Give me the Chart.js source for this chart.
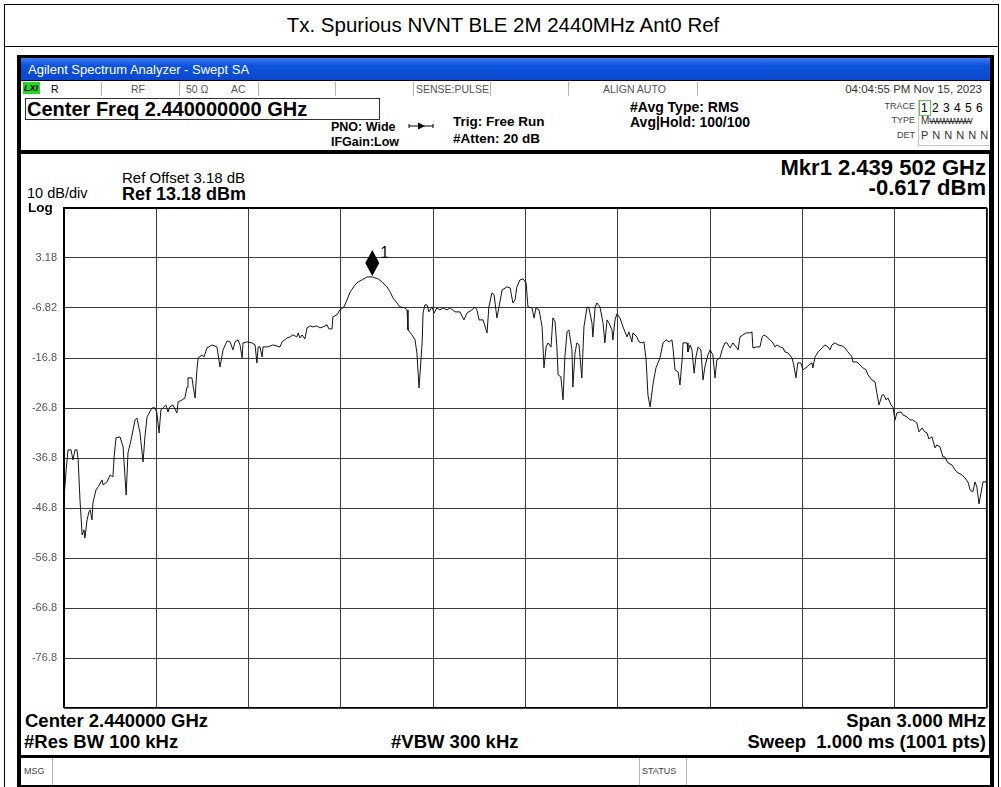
<!DOCTYPE html>
<html>
<head>
<meta charset="utf-8">
<script src="https://cdn.jsdelivr.net/npm/chart.js"></script>
<style>
  body { margin: 0; width: 1001px; height: 787px; position: relative; background: #fff; overflow: hidden;
         font-family: "Liberation Sans", Arial, sans-serif; color: #000; }
  .abs { position: absolute; line-height: 1; white-space: nowrap; }
  .b { font-weight: bold; }
  .st { font-size: 10.5px; color: #555; top: 83.5px; }
  .vl { position: absolute; width: 1px; background: #b4b4b4; }
  .sm { font-size: 9px; color: #444; }
</style>
</head>
<body>
<!-- page table -->
<div class="abs" style="left:4px;top:4px;width:993px;height:783px;border:1px solid #000;border-bottom:none;"></div>
<div class="abs" style="left:4px;top:46px;width:994px;height:1px;background:#000;"></div>
<div class="abs" style="left:0;top:15px;width:1006px;text-align:center;font-size:20.5px;">Tx. Spurious NVNT BLE 2M 2440MHz Ant0 Ref</div>

<!-- analyzer window -->
<div class="abs" style="left:17px;top:55px;width:977px;height:732px;background:#000;"></div>
<div class="abs" style="left:21px;top:58px;width:969px;height:22px;background:linear-gradient(#3d7df2,#0c52dc 35%,#0a48cf);"></div>
<div class="abs" style="left:28px;top:63px;font-size:13px;color:#fff;">Agilent Spectrum Analyzer - Swept SA</div>

<div class="abs" style="left:21px;top:81px;width:969px;height:15px;background:#fff;"></div>
<div class="abs" style="left:23px;top:82px;width:17px;height:12px;background:#22d822;"></div>
<div class="abs b" style="left:24px;top:84px;font-size:9px;font-style:italic;">LXI</div>
<div class="abs" style="left:51px;top:83.5px;font-size:10.5px;">R</div>
<div class="abs st" style="left:131px;">RF</div>
<div class="abs st" style="left:186px;">50 Ω</div>
<div class="abs st" style="left:231px;">AC</div>
<div class="abs st" style="left:416px;">SENSE:PULSE</div>
<div class="abs st" style="left:603px;">ALIGN AUTO</div>
<div class="abs" style="right:19px;top:83.5px;font-size:11.5px;color:#333;">04:04:55 PM Nov 15, 2023</div>
<div class="vl" style="left:101px;top:82px;height:14px;"></div>
<div class="vl" style="left:179px;top:82px;height:14px;"></div>
<div class="vl" style="left:258px;top:82px;height:14px;"></div>
<div class="vl" style="left:335px;top:82px;height:14px;"></div>
<div class="vl" style="left:413px;top:82px;height:14px;"></div>
<div class="vl" style="left:490px;top:82px;height:14px;"></div>
<div class="vl" style="left:568px;top:82px;height:14px;"></div>
<div class="vl" style="left:697px;top:82px;height:14px;"></div>

<div class="abs" style="left:21px;top:96px;width:969px;height:54px;background:#fff;"></div>
<div class="abs" style="left:25px;top:98px;width:353px;height:20px;border:1px solid #333;"></div>
<div class="abs b" style="left:27px;top:99px;font-size:20px;">Center Freq 2.440000000 GHz</div>
<div class="abs b" style="left:331px;top:121px;font-size:12.5px;">PNO: Wide</div>
<div class="abs b" style="left:331px;top:136px;font-size:12.5px;">IFGain:Low</div>
<svg class="abs" style="left:408px;top:121px;" width="26" height="10">
  <line x1="1" y1="5" x2="25" y2="5" stroke="#000" stroke-width="1"/>
  <polygon points="10,1.5 17,5 10,8.5" fill="#000"/>
  <line x1="1" y1="3" x2="1" y2="7" stroke="#000"/>
  <line x1="25" y1="3" x2="25" y2="7" stroke="#000"/>
</svg>
<div class="abs b" style="left:453px;top:115px;font-size:13.5px;">Trig: Free Run</div>
<div class="abs b" style="left:453px;top:132px;font-size:13.5px;">#Atten: 20 dB</div>
<div class="abs b" style="left:630px;top:100px;font-size:14px;">#Avg Type: RMS</div>
<div class="abs b" style="left:630px;top:115px;font-size:14px;">Avg|Hold: 100/100</div>

<div class="abs sm" style="right:86px;top:102px;">TRACE</div>
<div class="abs sm" style="right:86px;top:116px;">TYPE</div>
<div class="abs sm" style="right:86px;top:131px;">DET</div>
<div class="abs" style="left:918px;top:100px;width:1px;height:45px;background:#c8c8c8;"></div>
<div class="abs" style="left:918px;top:145px;width:71px;height:1px;background:#c8c8c8;"></div>
<div class="abs" style="left:919px;top:100px;width:10px;height:14px;border:1px solid #5ac85a;"></div>
<div class="abs" style="left:921px;top:102px;font-size:12px;word-spacing:1px;">1 2 3 4 5 6</div>
<div class="abs" style="left:921px;top:116px;font-size:10px;color:#333;">M<span style="letter-spacing:-1.5px;text-decoration:line-through;font-size:9px;">WWWWWW</span></div>
<div class="abs" style="left:921px;top:130px;font-size:11px;color:#333;word-spacing:1px;">P N N N N N</div>

<div class="abs" style="left:21px;top:154px;width:968px;height:601px;background:#fff;"></div>
<div class="abs" style="left:122px;top:170px;font-size:15px;">Ref Offset 3.18 dB</div>
<div class="abs b" style="left:122px;top:185px;font-size:18px;">Ref 13.18 dBm</div>
<div class="abs" style="left:27px;top:186px;font-size:14.5px;">10 dB/div</div>
<div class="abs b" style="left:28px;top:200.5px;font-size:13.5px;z-index:2;">Log</div>
<div class="abs b" style="right:15px;top:157px;font-size:22px;">Mkr1 2.439 502 GHz</div>
<div class="abs b" style="right:15px;top:177px;font-size:22px;">-0.617 dBm</div>

<canvas id="spec" class="abs" style="left:22px;top:200px;z-index:1;" width="966" height="515"></canvas>

<div class="abs b" style="left:25px;top:712px;font-size:18.5px;">Center 2.440000 GHz</div>
<div class="abs b" style="right:15px;top:712px;font-size:18.5px;">Span 3.000 MHz</div>
<div class="abs b" style="left:24px;top:733px;font-size:18.5px;">#Res BW 100 kHz</div>
<div class="abs b" style="left:391px;top:733px;font-size:18.5px;">#VBW 300 kHz</div>
<div class="abs b" style="right:15px;top:733px;font-size:18.5px;">Sweep&nbsp; 1.000 ms (1001 pts)</div>

<div class="abs" style="left:21px;top:758px;width:969px;height:27px;background:#fff;"></div>
<div class="abs sm" style="left:24px;top:767px;">MSG</div>
<div class="abs sm" style="left:642px;top:767px;">STATUS</div>
<div class="vl" style="left:52px;top:758px;height:27px;"></div>
<div class="vl" style="left:639px;top:758px;height:27px;"></div>
<div class="vl" style="left:686px;top:758px;height:27px;"></div>

<script>
// trace 1 (MHz / dBm)
const freqMHz = [
  2438.500, 2438.507, 2438.513, 2438.523, 2438.529, 2438.536, 2438.542, 2438.546, 2438.552, 2438.559,
  2438.565, 2438.568, 2438.575, 2438.581, 2438.585, 2438.591, 2438.594, 2438.604, 2438.611, 2438.624,
  2438.627, 2438.640, 2438.650, 2438.659, 2438.663, 2438.669, 2438.682, 2438.692, 2438.702, 2438.708,
  2438.718, 2438.731, 2438.737, 2438.747, 2438.757, 2438.763, 2438.770, 2438.786, 2438.796, 2438.802,
  2438.809, 2438.815, 2438.822, 2438.831, 2438.838, 2438.844, 2438.854, 2438.867, 2438.871, 2438.884,
  2438.893, 2438.900, 2438.903, 2438.916, 2438.919, 2438.926, 2438.932, 2438.936, 2438.949, 2438.955,
  2438.965, 2438.981, 2438.997, 2439.007, 2439.017, 2439.030, 2439.040, 2439.049, 2439.056, 2439.066,
  2439.072, 2439.079, 2439.082, 2439.095, 2439.111, 2439.121, 2439.127, 2439.131, 2439.137, 2439.144,
  2439.147, 2439.163, 2439.179, 2439.202, 2439.209, 2439.225, 2439.235, 2439.244, 2439.257, 2439.261,
  2439.267, 2439.274, 2439.283, 2439.290, 2439.300, 2439.309, 2439.322, 2439.332, 2439.342, 2439.355,
  2439.361, 2439.371, 2439.374, 2439.387, 2439.397, 2439.410, 2439.420, 2439.430, 2439.446, 2439.456,
  2439.469, 2439.485, 2439.502, 2439.511, 2439.521, 2439.534, 2439.550, 2439.560, 2439.569, 2439.582,
  2439.592, 2439.608, 2439.615, 2439.618, 2439.631, 2439.641, 2439.647, 2439.654, 2439.664, 2439.667,
  2439.673, 2439.680, 2439.686, 2439.696, 2439.703, 2439.712, 2439.722, 2439.732, 2439.745, 2439.755,
  2439.771, 2439.787, 2439.800, 2439.810, 2439.826, 2439.836, 2439.842, 2439.849, 2439.862, 2439.875,
  2439.881, 2439.891, 2439.898, 2439.907, 2439.914, 2439.924, 2439.940, 2439.950, 2439.959, 2439.966,
  2439.972, 2439.982, 2439.992, 2440.002, 2440.008, 2440.021, 2440.028, 2440.034, 2440.044, 2440.054,
  2440.060, 2440.067, 2440.073, 2440.083, 2440.089, 2440.096, 2440.102, 2440.106, 2440.115, 2440.122,
  2440.128, 2440.135, 2440.141, 2440.151, 2440.154, 2440.161, 2440.167, 2440.174, 2440.183, 2440.190,
  2440.200, 2440.206, 2440.216, 2440.219, 2440.226, 2440.232, 2440.242, 2440.252, 2440.258, 2440.265,
  2440.271, 2440.281, 2440.284, 2440.291, 2440.297, 2440.307, 2440.317, 2440.330, 2440.336, 2440.346,
  2440.349, 2440.362, 2440.369, 2440.379, 2440.385, 2440.392, 2440.398, 2440.405, 2440.415, 2440.424,
  2440.437, 2440.447, 2440.457, 2440.467, 2440.476, 2440.480, 2440.486, 2440.496, 2440.502, 2440.509,
  2440.512, 2440.525, 2440.528, 2440.535, 2440.541, 2440.548, 2440.554, 2440.561, 2440.570, 2440.577,
  2440.583, 2440.593, 2440.600, 2440.609, 2440.616, 2440.622, 2440.632, 2440.639, 2440.648, 2440.655,
  2440.665, 2440.674, 2440.687, 2440.691, 2440.697, 2440.707, 2440.717, 2440.730, 2440.736, 2440.739,
  2440.752, 2440.762, 2440.769, 2440.775, 2440.785, 2440.795, 2440.804, 2440.811, 2440.817, 2440.827,
  2440.837, 2440.843, 2440.853, 2440.866, 2440.872, 2440.879, 2440.885, 2440.895, 2440.902, 2440.915,
  2440.921, 2440.931, 2440.934, 2440.941, 2440.951, 2440.964, 2440.973, 2440.983, 2440.990, 2440.996,
  2441.006, 2441.016, 2441.029, 2441.038, 2441.048, 2441.061, 2441.064, 2441.077, 2441.087, 2441.097,
  2441.107, 2441.113, 2441.126, 2441.136, 2441.142, 2441.149, 2441.159, 2441.165, 2441.172, 2441.178,
  2441.188, 2441.194, 2441.201, 2441.207, 2441.220, 2441.227, 2441.240, 2441.250, 2441.259, 2441.272,
  2441.279, 2441.289, 2441.298, 2441.305, 2441.311, 2441.321, 2441.331, 2441.337, 2441.347, 2441.357,
  2441.363, 2441.373, 2441.386, 2441.396, 2441.406, 2441.419, 2441.428, 2441.438, 2441.445, 2441.454,
  2441.461, 2441.467, 2441.474, 2441.484, 2441.487, 2441.497, 2441.500
];
const levelDbm = [
  -44.8, -39.2, -35.2, -35.2, -37.2, -35.2, -35.2, -37.2, -45.2, -52.2,
  -51.2, -52.8, -49.2, -47.6, -47.2, -49.2, -45.8, -43.2, -42.6, -41.2,
  -42.2, -41.6, -40.2, -40.6, -36.6, -32.8, -32.6, -34.6, -44.2, -35.8,
  -33.2, -29.2, -28.8, -31.8, -37.6, -32.6, -28.6, -26.8, -26.8, -27.8,
  -31.8, -27.2, -26.8, -26.2, -27.6, -26.6, -26.2, -27.8, -25.6, -25.2,
  -24.8, -22.6, -20.8, -20.8, -22.2, -24.8, -19.2, -16.8, -16.2, -16.6,
  -14.8, -14.2, -14.6, -18.6, -15.2, -13.4, -13.6, -15.2, -13.6, -13.2,
  -14.2, -16.8, -13.8, -13.6, -13.8, -14.2, -17.8, -14.6, -14.6, -16.6,
  -14.6, -14.6, -14.2, -14.6, -13.6, -12.8, -12.6, -12.2, -12.6, -11.8,
  -12.8, -12.2, -13.0, -10.8, -10.4, -10.6, -10.4, -10.8, -10.6, -10.2,
  -11.0, -11.0, -8.6, -8.2, -7.2, -6.6, -5.2, -3.6, -2.2, -1.6,
  -1.2, -0.6, -0.6, -0.8, -1.0, -1.6, -2.6, -3.6, -4.8, -5.8,
  -6.6, -6.8, -7.2, -11.2, -12.2, -13.2, -15.8, -22.8, -13.8, -7.8,
  -6.2, -6.2, -7.6, -6.6, -7.8, -6.8, -7.2, -6.8, -7.2, -6.8,
  -7.6, -7.6, -9.2, -7.8, -7.2, -6.6, -7.2, -9.2, -9.2, -11.8,
  -6.6, -3.8, -4.2, -8.8, -6.6, -3.2, -2.6, -2.8, -5.8, -5.2,
  -2.6, -1.2, -1.0, -1.8, -6.6, -6.8, -8.8, -6.8, -7.2, -10.6,
  -18.8, -14.6, -13.8, -14.6, -8.8, -9.6, -14.6, -20.2, -20.6, -25.2,
  -16.6, -11.6, -11.2, -15.2, -22.6, -15.8, -13.8, -14.2, -20.8, -10.6,
  -6.6, -6.8, -9.8, -12.6, -6.8, -5.8, -6.6, -9.8, -13.8, -9.2,
  -9.8, -11.2, -13.2, -9.2, -8.0, -8.8, -10.6, -12.6, -11.6, -13.6,
  -11.8, -12.6, -13.6, -13.8, -13.6, -17.2, -24.2, -26.6, -21.8, -18.8,
  -16.8, -13.8, -13.2, -13.6, -13.2, -15.2, -19.2, -19.6, -22.2, -17.2,
  -13.8, -13.8, -15.6, -14.2, -15.2, -19.8, -16.6, -14.6, -15.2, -21.2,
  -18.6, -16.2, -15.2, -16.2, -20.8, -17.2, -16.8, -15.2, -13.8, -13.8,
  -14.8, -13.8, -14.8, -15.2, -12.6, -12.2, -11.8, -11.8, -11.6, -14.8,
  -14.6, -14.6, -12.6, -12.2, -12.6, -13.2, -13.8, -14.6, -14.2, -14.6,
  -14.8, -15.6, -15.8, -16.8, -18.2, -20.8, -17.8, -17.8, -19.2, -18.6,
  -18.2, -17.8, -18.8, -16.6, -15.6, -14.8, -14.2, -14.6, -15.2, -14.2,
  -13.8, -14.2, -14.4, -14.8, -15.6, -16.6, -17.6, -17.6, -18.2, -18.8,
  -19.2, -20.2, -21.2, -21.6, -23.8, -26.2, -24.2, -24.2, -25.2, -24.8,
  -26.2, -26.6, -29.2, -27.8, -27.6, -28.2, -28.6, -29.2, -29.2, -29.8,
  -31.6, -30.8, -31.6, -31.8, -33.0, -32.6, -34.8, -34.2, -34.6, -36.6,
  -36.6, -37.8, -38.2, -39.2, -39.8, -40.2, -40.8, -41.6, -43.2, -43.6,
  -41.6, -42.6, -46.0, -42.6, -41.6, -41.6, -41.6
];

// graticule: 10 dB/div from ref 13.18 dBm, 300 kHz/div over 3 MHz span
const yTickValues = [13.18, 3.18, -6.82, -16.82, -26.82, -36.82, -46.82, -56.82, -66.82, -76.82, -86.82];
const yTickLabels = ['', '3.18', '-6.82', '-16.8', '-26.8', '-36.8', '-46.8', '-56.8', '-66.8', '-76.8', ''];
const xGridMHz = [2438.5, 2438.8, 2439.1, 2439.4, 2439.7, 2440.0, 2440.3, 2440.6, 2440.9, 2441.2, 2441.5];

const markerFreq = 2439.502;
const markerLevel = -0.617;

const framePlugin = {
  id: 'frame',
  afterDatasetsDraw(chart) {
    const { ctx, chartArea: a, scales } = chart;
    ctx.save();
    ctx.strokeStyle = '#000';
    ctx.lineWidth = 2;
    ctx.beginPath();
    ctx.moveTo(a.left, a.bottom); ctx.lineTo(a.left, a.top); ctx.lineTo(a.right, a.top);
    ctx.stroke();
    ctx.lineWidth = 1;
    ctx.beginPath();
    ctx.moveTo(a.right - 0.5, a.top); ctx.lineTo(a.right - 0.5, a.bottom - 0.5); ctx.lineTo(a.left, a.bottom - 0.5);
    ctx.stroke();
    // marker 1
    const mx = scales.x.getPixelForValue(markerFreq);
    const my = scales.y.getPixelForValue(markerLevel);
    ctx.fillStyle = '#000';
    ctx.beginPath();
    ctx.moveTo(mx, my - 1);
    ctx.lineTo(mx + 7, my - 14);
    ctx.lineTo(mx, my - 27);
    ctx.lineTo(mx - 7, my - 14);
    ctx.closePath();
    ctx.fill();
    ctx.font = '16px "Liberation Sans", Arial, sans-serif';
    ctx.textBaseline = 'alphabetic';
    ctx.fillText('1', mx + 8, my - 19);
    ctx.restore();
  }
};

new Chart(document.getElementById('spec').getContext('2d'), {
  type: 'scatter',
  data: {
    datasets: [{
      data: freqMHz.map((f, i) => ({ x: f, y: levelDbm[i] })),
      showLine: true,
      borderColor: '#141414',
      borderWidth: 1,
      pointRadius: 0,
      tension: 0
    }]
  },
  options: {
    responsive: false,
    animation: false,
    layout: { padding: { left: 0, right: 1, top: 8, bottom: 7 } },
    plugins: { legend: { display: false }, tooltip: { enabled: false } },
    scales: {
      x: {
        type: 'linear', min: 2438.5, max: 2441.5,
        afterBuildTicks: s => { s.ticks = xGridMHz.map(v => ({ value: v })); },
        afterFit: s => { s.height = 0; s.paddingLeft = 0; s.paddingRight = 0; },
        ticks: { display: false },
        grid: { color: '#3c3c3c', lineWidth: 1, drawTicks: false },
        border: { display: false }
      },
      y: {
        min: -86.82, max: 13.18,
        afterBuildTicks: s => { s.ticks = yTickValues.map(v => ({ value: v })); },
        afterFit: s => { s.width = 42; s.paddingTop = 0; s.paddingBottom = 0; },
        ticks: {
          autoSkip: false, padding: 7, color: '#555',
          font: { size: 11, family: '"Liberation Sans", Arial, sans-serif' },
          callback: (v, i) => yTickLabels[i]
        },
        grid: { color: '#3c3c3c', lineWidth: 1, drawTicks: false },
        border: { display: false }
      }
    }
  },
  plugins: [framePlugin]
});
</script>
</body>
</html>
